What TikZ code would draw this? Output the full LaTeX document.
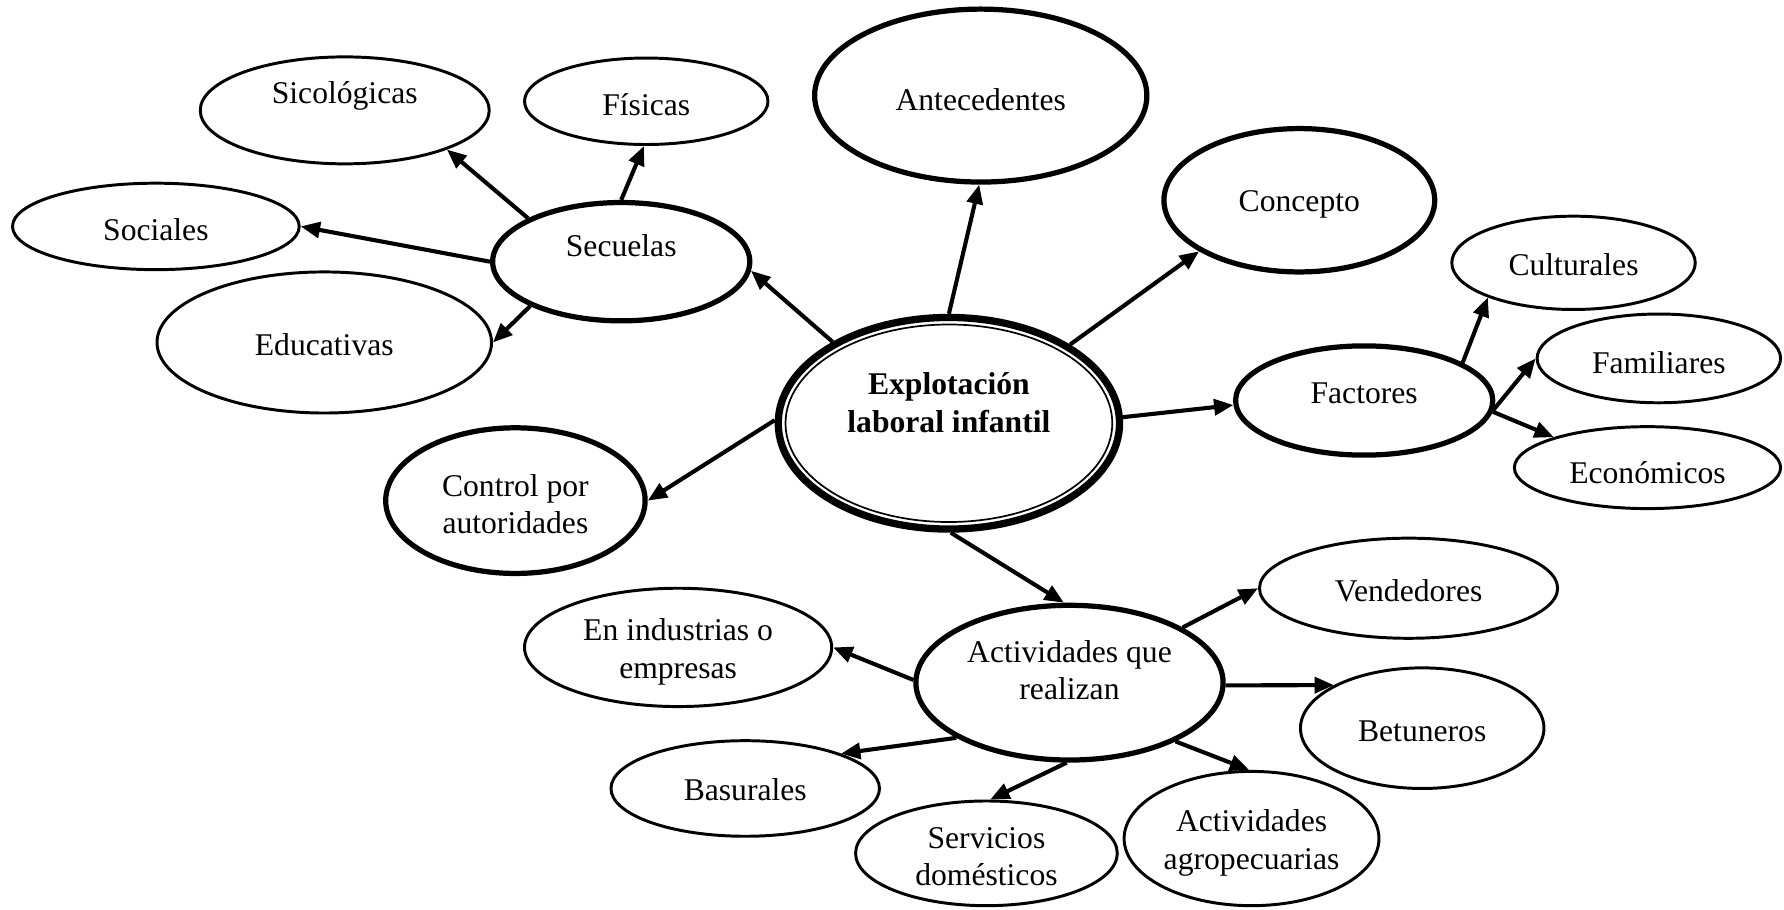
\documentclass[tikz,border=0pt]{standalone}
\usepackage{fontspec}
\setmainfont{Liberation Serif}
\usetikzlibrary{shapes.geometric,arrows.meta}
\begin{document}
\begin{tikzpicture}[x=0.5pt,y=-0.5pt,
  font=\fontsize{13.9pt}{16.5pt}\selectfont,
  bub/.style={ellipse, draw, fill=white, inner sep=0pt},
  thinb/.style={bub, line width=1.3pt},
  thickb/.style={bub, line width=2.3pt},
  sz/.style 2 args={minimum width=#1pt, minimum height=#2pt},
  lbl/.style={align=center, inner sep=0pt},
  arr/.style={-{Triangle[length=8.5pt,width=7pt]}, line width=1.8pt}]
\useasboundingbox (0,0) rectangle (1568,799);

% ellipses
\node[thinb, sz={127}{47}] (sico) at (303,97) {};
\node[thinb, sz={107}{38}] (fis) at (568,89) {};
\node[thickb, sz={146}{76}] (ante) at (862,84) {};
\node[thickb, sz={119}{63}] (conc) at (1142,176) {};
\node[thinb, sz={126}{38}] (soc) at (137,199) {};
\node[thickb, sz={113}{52}] (sec) at (546,230) {};
\node[thinb, sz={147}{62}] (edu) at (285,301) {};
\node[bub, line width=3.2pt, sz={150}{93}] (exp) at (834,372) {};
\draw[line width=0.75pt] (exp.center) ellipse [x radius=71.8pt, y radius=43.4pt];
\node[thickb, sz={114}{64}] (ctrl) at (453,440) {};
\node[thinb, sz={107}{41}] (cult) at (1383,231) {};
\node[thickb, sz={113}{48}] (fac) at (1199,352) {};
\node[thinb, sz={107}{39}] (fam) at (1458,315) {};
\node[thinb, sz={117}{36}] (eco) at (1448,411) {};
\node[thinb, sz={131}{44}] (vend) at (1238,517) {};
\node[thinb, sz={135}{52}] (ind) at (596,569) {};
\node[thickb, sz={135}{68}] (act) at (940,600) {};
\node[thinb, sz={107}{53}] (bet) at (1250,640) {};
\node[thinb, sz={118}{42}] (bas) at (655,693) {};
\node[thinb, sz={115}{46}] (serv) at (867,750) {};
\node[thinb, sz={112}{59}] (agro) at (1100,737) {};

% texts
\node[lbl] (t-sico) at (303,84) {Sicológicas};
\node[lbl] (t-fis) at (568,92) {Físicas};
\node[lbl] (t-ante) at (862,88) {Antecedentes};
\node[lbl] (t-conc) at (1142,180) {Concepto};
\node[lbl] (t-soc) at (137,202) {Sociales};
\node[lbl] (t-sec) at (546,216) {Secuelas};
\node[lbl] (t-edu) at (285,303) {Educativas};
\node[lbl, font=\fontsize{13.9pt}{16.5pt}\selectfont\bfseries] (t-exp) at (834,354) {Explotación\\laboral infantil};
\node[lbl] (t-ctrl) at (453,443) {Control por\\autoridades};
\node[lbl] (t-cult) at (1383,233) {Culturales};
\node[lbl] (t-fac) at (1199,346) {Factores};
\node[lbl] (t-fam) at (1458,319) {Familiares};
\node[lbl] (t-eco) at (1448,415) {Económicos};
\node[lbl] (t-vend) at (1238,519) {Vendedores};
\node[lbl] (t-ind) at (596,573) {En industrias o\\empresas};
\node[lbl] (t-act) at (940,589) {Actividades que\\realizan};
\node[lbl] (t-bet) at (1250,643) {Betuneros};
\node[lbl] (t-bas) at (655,694) {Basurales};
\node[lbl] (t-serv) at (867,753) {Servicios\\domésticos};
\node[lbl] (t-agro) at (1100,741) {Actividades\\agropecuarias};

% connectors
\draw[arr] (exp.145.7) -- (sec.356);
\draw[arr] (exp.90.5) -- (ante.269.3);
\draw[arr] (exp.33.3) -- (conc.207.4);
\draw[arr] (exp.2.6) -- (fac.182.5);
\draw[arr] (exp.179.3) -- (ctrl.0);
\draw[arr] (exp.271.2) -- (act.94.9);
\draw[arr] (sec.155.4) -- (sico.339.4);
\draw[arr] (sec.90) -- (fis.267);
\draw[arr] (sec.180.5) -- (soc.0.4);
\draw[arr] (sec.206.6) -- (edu.0.8);
\draw[arr] (fac.21.5) -- (cult.202);
\draw[arr] (fac.356.5) -- (fam.180.75);
\draw[arr] (fac.355.5) -- (eco.162.1);
\draw[arr] (act.26.5) -- (vend.180.7);
\draw[arr] (act.179.6) -- (ind.0.2);
\draw[arr] (act.359.75) -- (bet.154.1);
\draw[arr] (act.206.3) -- (bas.20.1);
\draw[arr] (act.268) -- (serv.86.3);
\draw[arr] (act.331.8) -- (agro.92.8);
\end{tikzpicture}
\end{document}
